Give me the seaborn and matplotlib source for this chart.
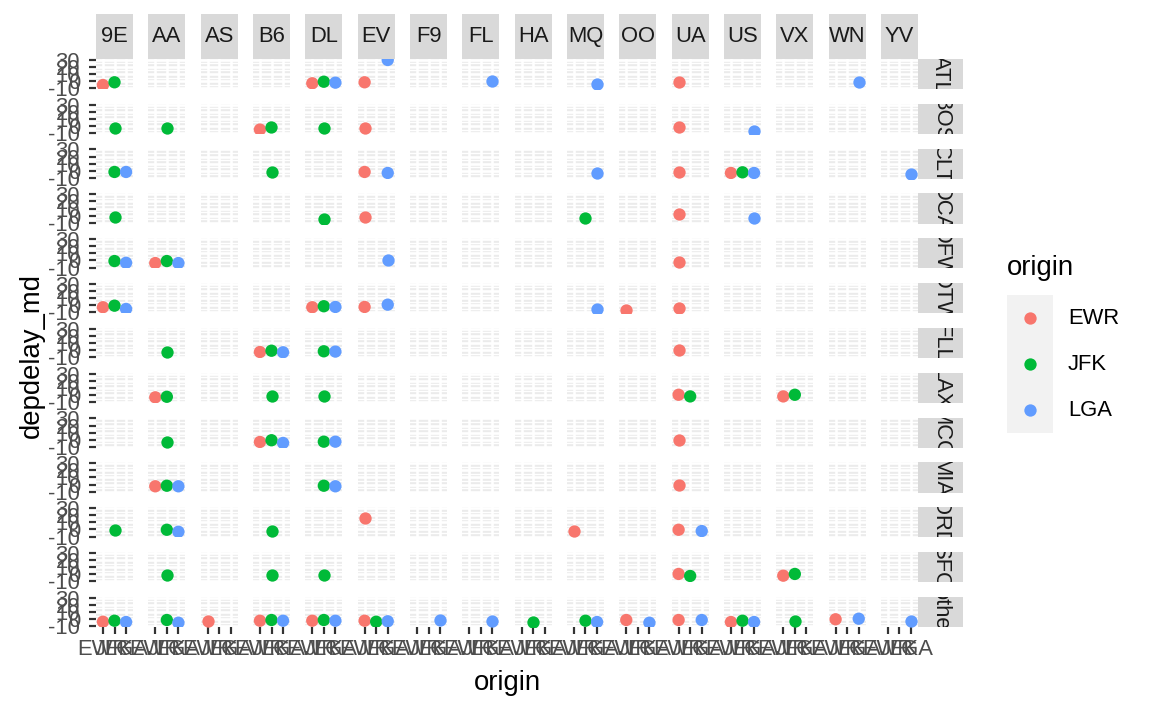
import pandas as pd
import matplotlib
matplotlib.use("Agg")
import matplotlib.pyplot as plt
import seaborn as sns

carriers = ["9E", "AA", "AS", "B6", "DL", "EV", "F9", "FL", "HA", "MQ", "OO", "UA", "US", "VX", "WN", "YV"]
dests = ["ATL", "BOS", "CLT", "DCA", "DFW", "DTW", "FLL", "LAX", "MCO", "MIA", "ORD", "SFO", "other"]
origins = ["EWR", "JFK", "LGA"]
origin_colors = ["#F8766D", "#00BA38", "#619CFF"]

# median departure delay per destination: (carrier, origin, depdelay_md)
atl = [("9E", "EWR", -5.4), ("9E", "JFK", -1.6), ("DL", "EWR", -3.0), ("DL", "JFK", -0.8),
       ("DL", "LGA", -2.1), ("EV", "EWR", -1.6), ("EV", "LGA", 29.6), ("FL", "LGA", 0.2),
       ("MQ", "LGA", -3.5), ("UA", "EWR", -0.8), ("WN", "LGA", -0.8)]
bos = [("9E", "JFK", -3.0), ("AA", "JFK", -3.0), ("B6", "EWR", -5.0), ("B6", "JFK", -2.1),
       ("DL", "JFK", -3.0), ("EV", "EWR", -2.6), ("UA", "EWR", -0.8), ("US", "LGA", -6.4)]
clt = [("9E", "JFK", -1.6), ("9E", "LGA", -1.6), ("B6", "JFK", -1.6), ("EV", "EWR", -1.6),
       ("EV", "LGA", -3.0), ("MQ", "LGA", -3.0), ("UA", "EWR", -2.1), ("US", "EWR", -3.0),
       ("US", "JFK", -2.1), ("US", "LGA", -3.0), ("YV", "LGA", -5.0)]
dca = [("9E", "JFK", -2.1), ("DL", "JFK", -5.0), ("EV", "EWR", -1.6), ("MQ", "JFK", -3.0),
       ("UA", "EWR", 3.0), ("US", "LGA", -3.5)]
dfw = [("9E", "JFK", -0.8), ("9E", "LGA", -3.2), ("AA", "EWR", -3.6), ("AA", "JFK", -0.8),
       ("AA", "LGA", -3.6), ("EV", "LGA", 1.0), ("UA", "EWR", -2.2)]
dtw = [("9E", "EWR", -2.7), ("9E", "JFK", -0.5), ("9E", "LGA", -5.1), ("DL", "EWR", -2.7),
       ("DL", "JFK", -1.3), ("DL", "LGA", -2.3), ("EV", "EWR", -2.3), ("EV", "LGA", 0.9),
       ("MQ", "LGA", -4.7), ("OO", "EWR", -6.5), ("UA", "EWR", -3.3)]
fll = [("AA", "JFK", -2.6), ("B6", "EWR", -2.6), ("B6", "JFK", -0.8), ("B6", "LGA", -3.0),
       ("DL", "JFK", -1.6), ("DL", "LGA", -2.0), ("UA", "EWR", 0.2)]
lax = [("AA", "EWR", -3.3), ("AA", "JFK", -2.5), ("B6", "JFK", -2.0), ("DL", "JFK", -2.0),
       ("UA", "EWR", 0.3), ("UA", "JFK", -2.0), ("VX", "EWR", -2.0), ("VX", "JFK", 0.3)]
mco = [("AA", "JFK", -2.6), ("B6", "EWR", -3.0), ("B6", "JFK", -0.6), ("B6", "LGA", -4.4),
       ("DL", "JFK", -2.6), ("DL", "LGA", -2.6), ("UA", "EWR", -0.6)]
mia = [("AA", "EWR", -2.3), ("AA", "JFK", -1.5), ("AA", "LGA", -2.3), ("DL", "JFK", -1.5),
       ("DL", "LGA", -2.3), ("UA", "EWR", -0.5)]
ord_ = [("9E", "JFK", -1.2), ("AA", "JFK", -0.4), ("AA", "LGA", -3.2), ("B6", "JFK", -2.2),
        ("EV", "EWR", 15.6), ("MQ", "EWR", -2.2), ("UA", "EWR", -0.4), ("UA", "LGA", -2.2)]
sfo = [("AA", "JFK", -1.3), ("B6", "JFK", -0.5), ("DL", "JFK", -1.3), ("UA", "EWR", 0.5),
       ("UA", "JFK", -2.3), ("VX", "EWR", -1.9), ("VX", "JFK", 0.5)]
other = [("9E", "EWR", -3.6), ("9E", "JFK", -2.2), ("9E", "LGA", -4.0), ("AA", "JFK", -1.2),
         ("AA", "LGA", -5.0), ("AS", "EWR", -3.0), ("B6", "EWR", -2.2), ("B6", "JFK", -1.2),
         ("B6", "LGA", -2.2), ("DL", "EWR", -2.2), ("DL", "JFK", -1.2), ("DL", "LGA", -2.2),
         ("EV", "EWR", -2.2), ("EV", "JFK", -3.6), ("EV", "LGA", -3.0), ("F9", "LGA", -0.8),
         ("FL", "LGA", -2.2), ("HA", "JFK", -3.6), ("MQ", "JFK", -2.2), ("MQ", "LGA", -4.0),
         ("OO", "EWR", -1.2), ("OO", "LGA", -5.0), ("UA", "EWR", -1.2), ("UA", "LGA", -1.2),
         ("US", "EWR", -4.0), ("US", "JFK", -2.2), ("US", "LGA", -4.0), ("VX", "JFK", -2.2),
         ("WN", "EWR", -0.2), ("WN", "LGA", 0.6), ("YV", "LGA", -3.0)]

rows = []
for d, pts in zip(dests, [atl, bos, clt, dca, dfw, dtw, fll, lax, mco, mia, ord_, sfo, other]):
    for c, o, v in pts:
        rows.append({"dest": d, "carrier": c, "origin": o, "depdelay_md": v})
df = pd.DataFrame(rows)
# discrete x position of each origin
df["x"] = df["origin"].map({o: k for k, o in enumerate(origins)})

plt.rcParams["font.family"] = ["Liberation Sans", "DejaVu Sans"]
plt.rcParams["axes.unicode_minus"] = False

W, H = 1152, 711
nr, nc = len(dests), len(carriers)
fig, axes = plt.subplots(nr, nc, figsize=(W / 144, H / 144), dpi=144, sharex=True, sharey=True)
fig.subplots_adjust(left=96 / W, right=918 / W, top=1 - 59 / H, bottom=1 - 627 / H,
                    wspace=15.33 / 37, hspace=14.83 / 30)

groups = dict(tuple(df.groupby(["dest", "carrier"])))
pal = dict(zip(origins, origin_colors))

for i, d in enumerate(dests):
    for j, c in enumerate(carriers):
        ax = axes[i, j]
        sub = groups.get((d, c))
        if sub is not None:
            sns.scatterplot(data=sub, x="x", y="depdelay_md", hue="origin", hue_order=origins,
                            palette=pal, s=38, linewidth=0, legend=False, ax=ax)
        ax.set_xlabel("")
        ax.set_ylabel("")
        ax.set_facecolor("#EBEBEB")
        for s in ax.spines.values():
            s.set_visible(False)
        ax.grid(True, which="major", color="white", lw=1.33)
        ax.grid(True, which="minor", axis="y", color="white", lw=0.67)
        ax.set_axisbelow(True)
        ax.tick_params(which="minor", length=0)
        ax.tick_params(axis="y", length=3.5 if j == 0 else 0, width=1.1, color="#333333",
                       labelsize=11, labelcolor="#4D4D4D", pad=4.5)
        ax.tick_params(axis="x", length=3.5 if i == nr - 1 else 0, width=1.1, color="#333333",
                       labelsize=11, labelcolor="#4D4D4D", pad=2.5)

ax0 = axes[0, 0]
ax0.set_ylim(-11, 31)
ax0.set_yticks([-10, 0, 10, 20, 30])
ax0.set_yticks([-5, 5, 15, 25], minor=True)
ax0.set_xlim(-0.6, 2.6)
ax0.set_xticks([0, 1, 2])
ax0.set_xticklabels(origins)

# facet strips
for j, c in enumerate(carriers):
    pos = axes[0, j].get_position()
    sax = fig.add_axes([pos.x0, pos.y1, pos.width, 45 / H])
    sax.set_facecolor("#D9D9D9")
    sax.set_xticks([])
    sax.set_yticks([])
    for s in sax.spines.values():
        s.set_visible(False)
    sax.text(0.5, 0.5, c, ha="center", va="center", fontsize=11, color="#1A1A1A",
             transform=sax.transAxes, clip_on=True)

for i, d in enumerate(dests):
    pos = axes[i, -1].get_position()
    sax = fig.add_axes([pos.x1, pos.y0, 45 / W, pos.height])
    sax.set_facecolor("#D9D9D9")
    sax.set_xticks([])
    sax.set_yticks([])
    for s in sax.spines.values():
        s.set_visible(False)
    sax.text(0.5, 0.5, d, ha="center", va="center", rotation=-90, fontsize=11,
             color="#1A1A1A", transform=sax.transAxes, clip_on=True)

# axis titles
fig.text(507 / W, 1 - 683 / H, "origin", ha="center", va="center", fontsize=13.75, color="black")
fig.text(32 / W, 1 - 355 / H, "depdelay_md", ha="center", va="center", rotation=90,
         fontsize=13.75, color="black")

# legend
fig.text(1007 / W, 1 - 268 / H, "origin", ha="left", va="center", fontsize=13.75, color="black")
leg = fig.add_axes([1007 / W, 1 - 433 / H, 46 / W, 138 / H])
leg.set_facecolor("#F2F2F2")
leg.set_xlim(0, 1)
leg.set_ylim(0, 3)
leg.set_xticks([])
leg.set_yticks([])
for s in leg.spines.values():
    s.set_visible(False)
for k, (o, col) in enumerate(zip(origins, origin_colors)):
    leg.scatter([0.5], [2.5 - k], s=38, color=col, linewidths=0)
    fig.text(1068 / W, 1 - (318 + 46 * k) / H, o, ha="left", va="center", fontsize=11,
             color="black")

fig.savefig("out.png", dpi=144)
